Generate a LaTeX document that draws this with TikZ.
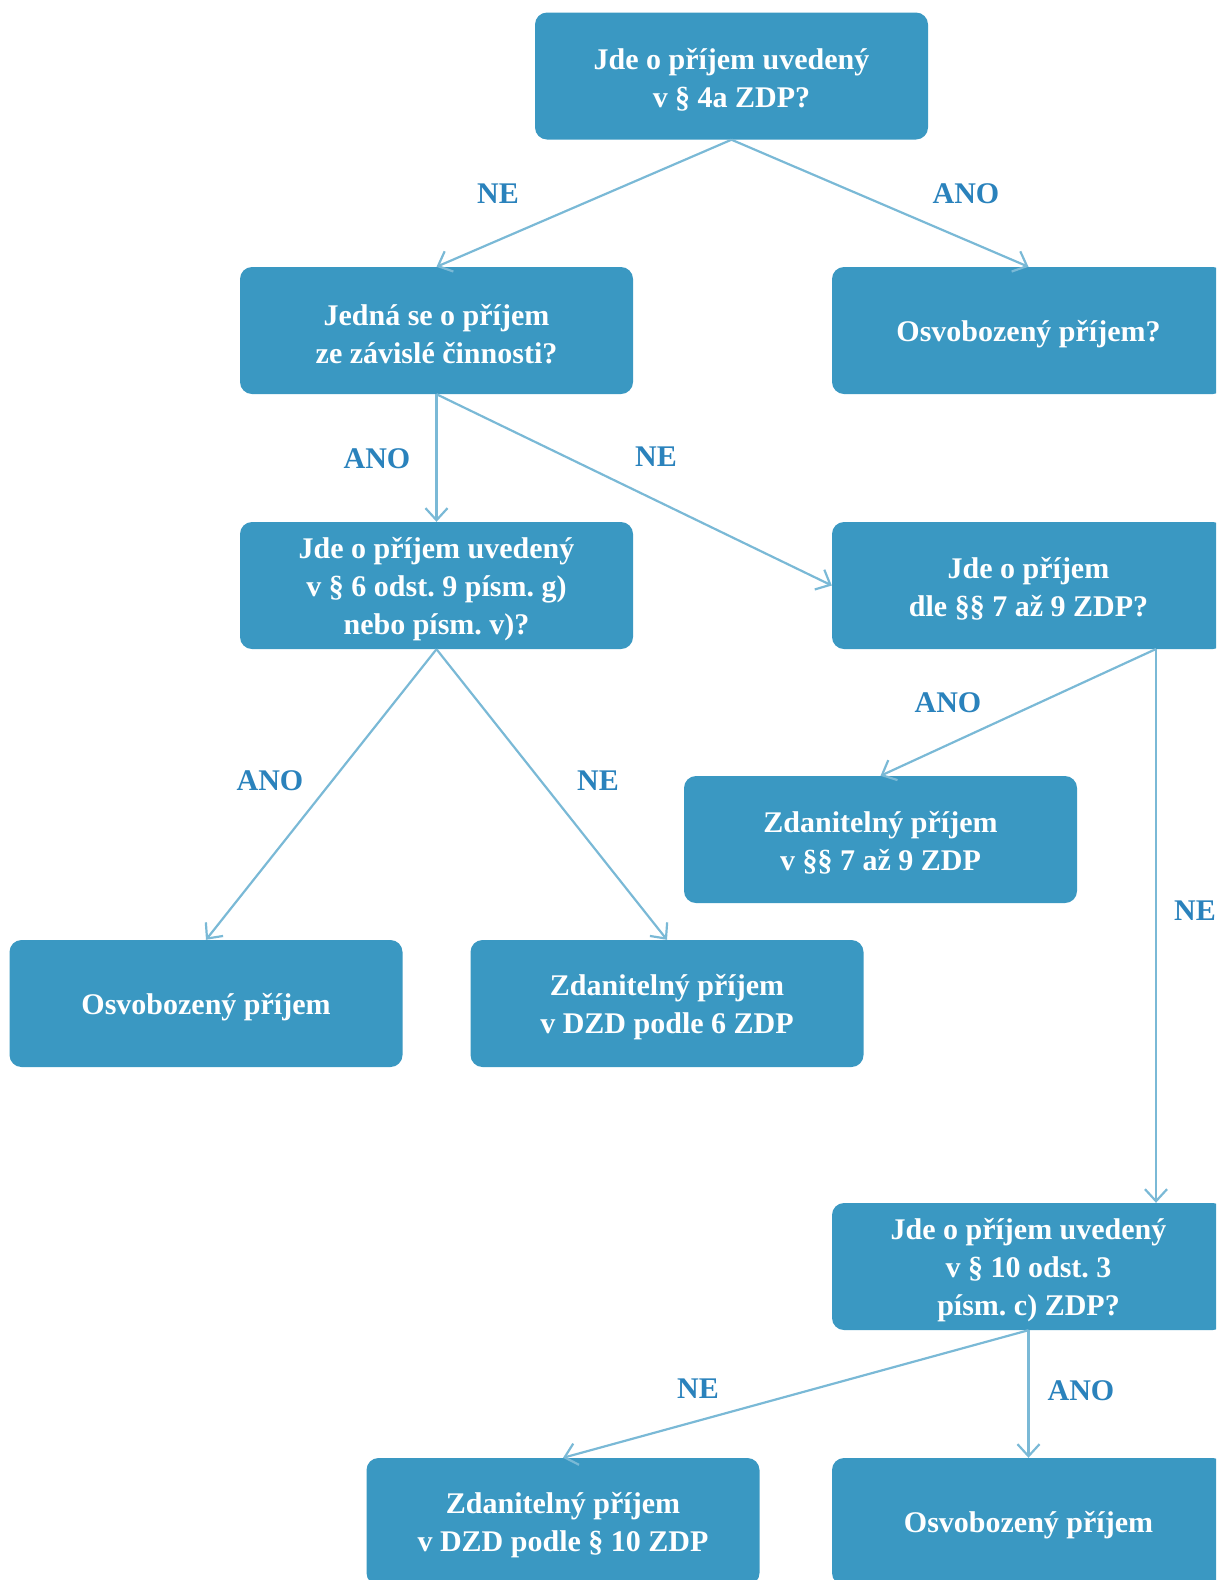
\documentclass[tikz,border=0pt]{standalone}
\usepackage{fontspec}
\setmainfont{Liberation Serif}
\usetikzlibrary{arrows.meta}
\definecolor{boxfill}{HTML}{3A98C2}
\definecolor{arrowc}{HTML}{7AB9D6}
\definecolor{labelc}{HTML}{2A82BC}
\frenchspacing
\begin{document}
\begin{tikzpicture}[x=1pt,y=-1pt,
  qbox/.style={fill=boxfill, rounded corners=12pt, minimum width=393pt, minimum height=127pt, inner sep=0pt},
  qtext/.style={text=white, font=\fontsize{30}{38}\selectfont\bfseries, align=center, inner sep=0pt, yshift=-3.5pt},
  conn/.style={draw=arrowc, line width=2.2pt, -{Straight Barb[length=12pt,width=22pt,line width=2.2pt]}},
  lab/.style={text=labelc, font=\fontsize{30}{32}\selectfont\bfseries}]
\path[use as bounding box, clip] (0,0) rectangle (1216,1580);
\node[qbox, label={[qtext]center:{Jde o příjem uvedený\\v § 4a ZDP?}}] (b1) at (731.5,76) {};
\node[qbox, label={[qtext]center:{Jedná se o příjem\\ze závislé činnosti?}}] (b2) at (436.5,330.5) {};
\node[qbox, label={[qtext]center:{Osvobozený příjem?}}] (b3) at (1028.5,330.5) {};
\node[qbox, label={[qtext]center:{Jde o příjem uvedený\\v § 6 odst. 9 písm. g)\\nebo písm. v)?}}] (b4) at (436.5,585.5) {};
\node[qbox, label={[qtext]center:{Jde o příjem\\dle §§ 7 až 9 ZDP?}}] (b5) at (1028.5,585.5) {};
\node[qbox, label={[qtext]center:{Zdanitelný příjem\\v §§ 7 až 9 ZDP}}] (b6) at (880.5,839.5) {};
\node[qbox, label={[qtext]center:{Osvobozený příjem}}] (b7) at (206,1003.5) {};
\node[qbox, label={[qtext]center:{Zdanitelný příjem\\v DZD podle 6 ZDP}}] (b8) at (667,1003.5) {};
\node[qbox, label={[qtext]center:{Jde o příjem uvedený\\v § 10 odst. 3\\písm. c) ZDP?}}] (b9) at (1028.5,1266.5) {};
\node[qbox, label={[qtext]center:{Zdanitelný příjem\\v DZD podle § 10 ZDP}}] (b10) at (563,1521.5) {};
\node[qbox, label={[qtext]center:{Osvobozený příjem}}] (b11) at (1028.5,1521.5) {};
\coordinate (b5out) at (1156,649);
\draw[conn] (b1.south) -- (b2.north);
\draw[conn] (b1.south) -- (b3.north);
\draw[conn] (b2.south) -- (b4.north);
\draw[conn] (b2.south) -- (b5.west);
\draw[conn] (b4.south) -- (b7.north);
\draw[conn] (b4.south) -- (b8.north);
\draw[conn] (b5out) -- (b6.north);
\draw[conn] (b5out) -- (b5out |- b9.north);
\draw[conn] (b9.south) -- (b10.north);
\draw[conn] (b9.south) -- (b11.north);
\node[lab] (l1) at (498,194) {NE};
\node[lab] (l2) at (966,194) {ANO};
\node[lab] (l3) at (377,459) {ANO};
\node[lab] (l4) at (656,457) {NE};
\node[lab] (l5) at (948,703) {ANO};
\node[lab] (l6) at (270,781) {ANO};
\node[lab] (l7) at (598,781) {NE};
\node[lab] (l8) at (1195,911) {NE};
\node[lab] (l9) at (698,1389) {NE};
\node[lab] (l10) at (1081,1391) {ANO};
\end{tikzpicture}
\end{document}
